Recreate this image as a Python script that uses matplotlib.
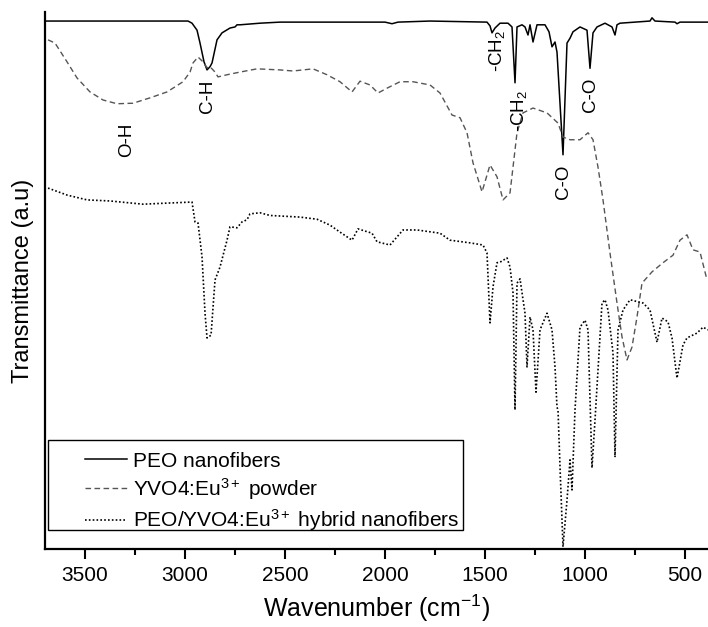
import matplotlib
matplotlib.use("Agg")
import matplotlib.pyplot as plt
from matplotlib.patches import Rectangle

plt.rcParams['font.family'] = ['Liberation Sans', 'DejaVu Sans']
plt.rcParams['mathtext.fontset'] = 'custom'
plt.rcParams['mathtext.rm'] = 'Liberation Sans'
plt.rcParams['mathtext.it'] = 'Liberation Sans:italic'

# PEO nanofibers (solid)
peo_wn = [3700, 2985, 2965, 2940, 2925, 2905, 2890, 2875, 2865, 2840, 2815, 2775, 2750,
          2740, 2725, 2625, 2525, 2225, 2000, 1965, 1935, 1775, 1490, 1475, 1465, 1450,
          1425, 1385, 1365, 1350, 1340, 1315, 1300, 1285, 1275, 1260, 1240, 1200, 1180,
          1165, 1150, 1140, 1110, 1090, 1075, 1060, 1025, 990, 975, 960, 940, 900, 865,
          850, 840, 825, 675, 665, 650, 550, 540, 525, 385]
peo_t = [98.3, 98.3, 97.9, 96.6, 94.2, 90.7, 89.2, 89.8, 90.5, 94.8, 96.1, 97.0, 97.2,
         97.6, 97.6, 97.9, 98.1, 98.1, 98.1, 97.8, 98.1, 98.3, 98.1, 97.4, 96.1, 97.0,
         97.9, 97.9, 97.2, 86.8, 97.2, 97.6, 97.2, 95.7, 97.6, 94.4, 97.6, 97.6, 96.3,
         93.5, 94.4, 92.5, 73.4, 94.2, 95.1, 96.3, 97.2, 96.6, 89.5, 96.1, 97.2, 97.9, 97.2,
         95.7, 97.6, 97.9, 98.3, 98.9, 98.3, 98.1, 97.8, 98.1, 98.1]

# YVO4:Eu3+ powder (dashed)
yvo_wn = [3685, 3650, 3590, 3540, 3475, 3410, 3340, 3260, 3175, 3090, 3010, 2975, 2960,
          2935, 2910, 2890, 2875, 2850, 2835, 2790, 2725, 2640, 2525, 2460, 2360, 2290,
          2225, 2165, 2125, 2075, 2035, 1990, 1925, 1860, 1775, 1725, 1665, 1625, 1590,
          1560, 1515, 1475, 1440, 1410, 1375, 1340, 1310, 1260, 1190, 1135, 1110, 1075,
          1025, 985, 960, 935, 910, 875, 840, 815, 790, 765, 740, 715, 665, 610, 560,
          525, 490, 460, 425, 390]
yvo_t = [94.8, 94.2, 90.7, 87.7, 85.1, 83.6, 82.9, 83.0, 84.0, 85.1, 87.0, 88.8, 90.5,
         91.6, 90.7, 89.6, 89.8, 88.8, 87.9, 88.3, 88.8, 89.4, 89.2, 89.0, 89.4, 88.3,
         87.0, 85.1, 87.1, 86.4, 84.9, 85.8, 87.0, 87.0, 86.4, 84.9, 80.8, 80.3, 77.5,
         71.9, 66.5, 71.5, 69.3, 65.0, 66.3, 77.5, 81.2, 82.1, 81.2, 79.3, 76.7, 76.2,
         76.2, 77.5, 76.2, 71.1, 65.0, 55.1, 45.8, 39.5, 35.2, 37.6, 43.2, 49.5, 51.6,
         53.3, 54.7, 57.5, 58.5, 55.7, 55.3, 50.1]

# PEO/YVO4:Eu3+ hybrid nanofibers (dotted)
hyb_wn = [3685, 3590, 3490, 3375, 3210, 3090, 2965, 2950, 2935, 2915, 2900, 2890, 2870,
          2850, 2825, 2790, 2775, 2740, 2715, 2690, 2675, 2625, 2575, 2425, 2340, 2275,
          2225, 2165, 2135, 2065, 2040, 1975, 1910, 1840, 1725, 1675, 1575, 1510, 1490,
          1475, 1460, 1440, 1425, 1390, 1375, 1360, 1350, 1340, 1325, 1300, 1290, 1275,
          1260, 1245, 1225, 1190, 1165, 1150, 1140, 1135, 1125, 1110, 1090, 1075, 1065,
          1050, 1025, 1000, 985, 965, 950, 915, 900, 885, 860, 850, 835, 810, 775, 710,
          675, 640, 615, 585, 565, 540, 510, 490, 440, 410, 385]
hyb_t = [67.2, 65.9, 65.0, 64.8, 64.2, 64.4, 64.6, 60.9, 60.7, 54.4, 43.9, 39.3, 39.8,
         50.1, 52.5, 57.5, 60.0, 59.8, 60.9, 61.3, 62.4, 62.6, 62.1, 61.8, 61.4, 60.3,
         59.0, 57.5, 59.6, 58.8, 57.2, 56.6, 59.4, 59.4, 58.8, 57.5, 57.0, 56.6, 55.1,
         42.1, 48.8, 53.3, 53.4, 54.2, 52.5, 47.7, 25.9, 49.5, 50.3, 43.9, 33.9, 43.2,
         40.8, 29.2, 40.8, 43.9, 40.8, 33.9, 26.4, 25.9, 15.3, 0.4, 9.1, 16.6, 11.0,
         25.9, 41.3, 42.6, 40.8, 15.1, 24.0, 45.8, 46.4, 44.5, 36.5, 17.1, 40.8, 44.5, 46.4, 45.8,
         44.5, 38.5, 43.0, 42.3, 39.3, 31.8, 38.0, 39.3, 40.2, 41.3, 40.8]

series_labels = ['PEO nanofibers',
                 'YVO4:Eu$^{\\mathrm{3+}}$ powder',
                 'PEO/YVO4:Eu$^{\\mathrm{3+}}$ hybrid nanofibers']

# band assignments: text, wavenumber, height
peak_text = ['O-H', 'C-H', '-CH$_{\\mathrm{2}}$', '-CH$_{\\mathrm{2}}$', 'C-O', 'C-O']
peak_wn = [3290, 2890, 1440, 1330, 1110, 975]
peak_t = [76.2, 84.2, 92.8, 81.5, 68.3, 84.5]

fig = plt.figure(figsize=(7.08, 6.27), dpi=100)
ax = fig.add_axes([0.0636, 0.1244, 0.9364, 0.8566])

ax.plot(peo_wn, peo_t, color='black', lw=1.1, label=series_labels[0])
ax.plot(yvo_wn, yvo_t, color='#555555', lw=1.0, dashes=(4, 2.5), label=series_labels[1])
ax.plot(hyb_wn, hyb_t, color='black', lw=1.2, dashes=(1, 1.3), label=series_labels[2])

for txt, w, t in zip(peak_text, peak_wn, peak_t):
    ax.text(w, t, txt, rotation=90, ha='center', va='center', fontsize=13.5)

ax.set_xlim(3700, 385)
ax.set_ylim(0, 100)
ax.set_xticks([3500, 3000, 2500, 2000, 1500, 1000, 500])
ax.set_xticks([3250, 2750, 2250, 1750, 1250, 750], minor=True)
ax.set_yticks([])
ax.tick_params(axis='x', which='major', direction='out', length=7, width=1.5, labelsize=15, pad=5)
ax.tick_params(axis='x', which='minor', direction='out', length=4, width=1.5)
for s in ['top', 'right']:
    ax.spines[s].set_visible(False)
for s in ['left', 'bottom']:
    ax.spines[s].set_linewidth(1.6)

ax.set_xlabel('Wavenumber (cm$^{\\mathrm{-1}}$)', fontsize=18, labelpad=6)
ax.set_ylabel('Transmittance (a.u)', fontsize=17, labelpad=8)

# legend frame is wider than its contents in the original, so draw it separately
leg = ax.legend(loc='upper left', bbox_to_anchor=(0.0603, 0.181), frameon=False,
                fontsize=15, handlelength=2.0, labelspacing=0.25, borderpad=0,
                handletextpad=0.3, borderaxespad=0)
ax.add_patch(Rectangle((0.0045, 0.035), 0.6255, 0.168, transform=ax.transAxes,
                       fill=False, edgecolor='black', lw=1.0, zorder=5))

plt.savefig('out.png', dpi=100)
